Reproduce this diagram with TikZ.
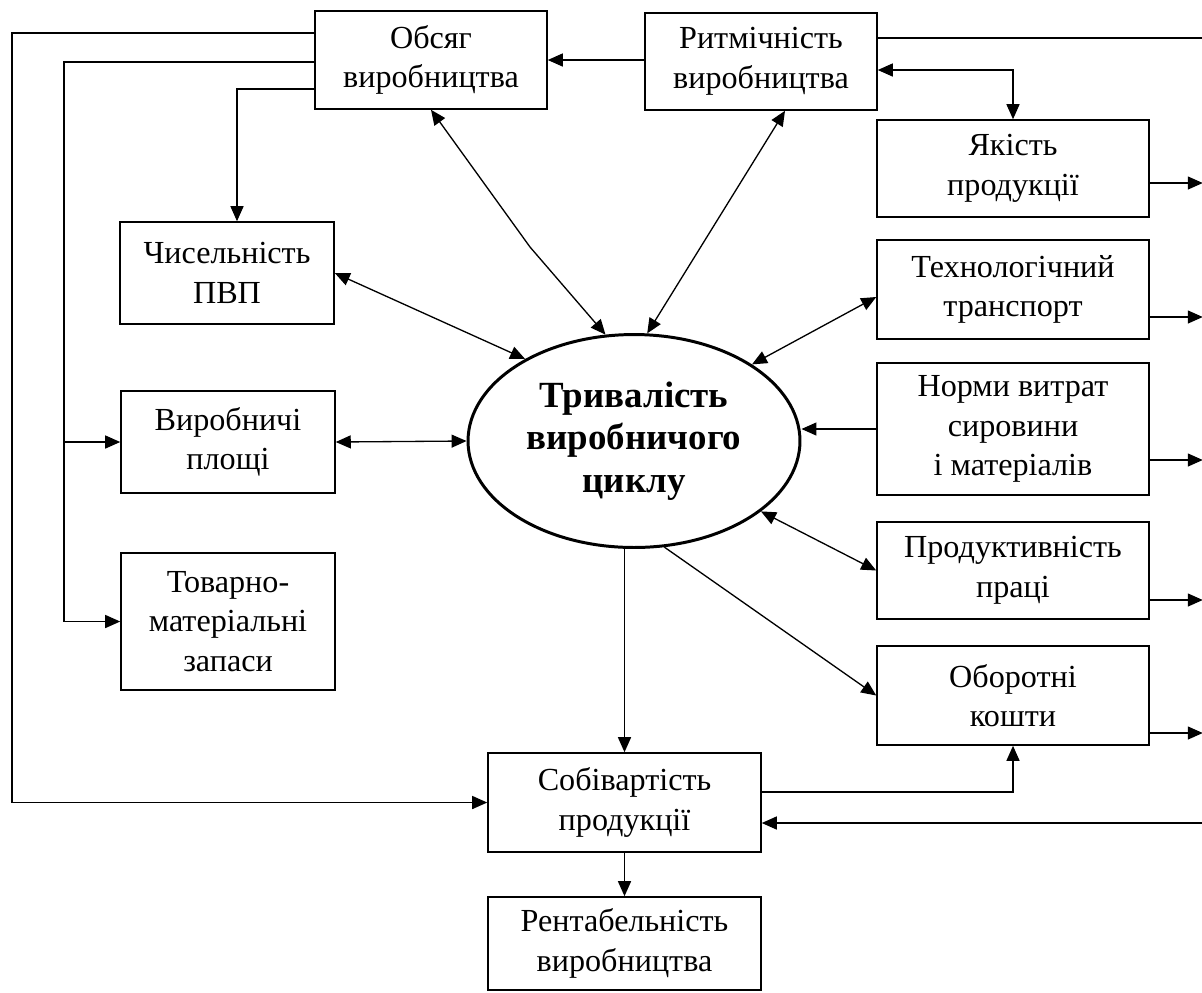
\documentclass[tikz,border=0pt]{standalone}
\usepackage{fontspec}
\setmainfont{Liberation Serif}
\usetikzlibrary{arrows.meta,shapes.geometric}
\begin{document}
\begin{tikzpicture} [x=0.02cm,y=-0.02cm,
	factor/.style={shape=rectangle,draw,line width=0.9pt,inner sep=0pt,align=center,font=\fontsize{18.3}{22.5}\selectfont,minimum width=5.44cm,minimum height=1.96cm},
	central/.style={shape=ellipse,draw,line width=1.7pt,inner sep=0pt,align=center,font=\fontsize{21}{24}\selectfont\bfseries,minimum width=6.64cm,minimum height=4.26cm},
	link/.style={-{Triangle[length=0.3cm,width=0.26cm]},line width=0.75pt},
	dlink/.style={{Triangle[length=0.3cm,width=0.26cm]}-{Triangle[length=0.3cm,width=0.26cm]},line width=0.75pt},
	plain/.style={line width=0.75pt}]
	\useasboundingbox (0,0) rectangle (1202,992);
	\coordinate (leftBus) at (12,0);
	\coordinate (midBus) at (64,0);

	\node (cycleNode) at (634,441)[central] {Тривалість\\виробничого\\циклу};

	\node (obsyagNode) at (431,60)[factor,minimum width=4.64cm] {Обсяг\\виробництва};
	\node (ritmNode) at (761,61.5)[factor,minimum width=4.64cm,minimum height=1.94cm] {Ритмічність\\виробництва};
	\node (yakistNode) at (1013,168.5)[factor,minimum height=1.94cm] {Якість\\продукції};
	\node (tekhNode) at (1013,289.5)[factor,minimum height=1.98cm] {Технологічний\\транспорт};
	\node (normyNode) at (1013,429)[factor,minimum height=2.64cm] {Норми витрат\\сировини\\і матеріалів};
	\node (produktNode) at (1013,570.5)[factor,minimum height=1.94cm] {Продуктивність\\праці};
	\node (oborotNode) at (1013,695.5)[factor,minimum height=1.98cm] {Оборотні\\кошти};

	\node (chyselNode) at (227,273)[factor,minimum width=4.28cm,minimum height=2.04cm] {Чисельність\\ПВП};
	\node (ploshchiNode) at (228,442)[factor,minimum width=4.28cm,minimum height=2.04cm] {Виробничі\\площі};
	\node (zapasyNode) at (228,621.5)[factor,minimum width=4.28cm,minimum height=2.74cm] {Товарно-\\матеріальні\\запаси};

	\node (sobivNode) at (624.5,802.5)[factor,minimum width=5.46cm,minimum height=1.98cm] {Собівартість\\продукції};
	\node (rentabNode) at (624.5,943.5)[factor,minimum width=5.46cm,minimum height=1.86cm] {Рентабельність\\виробництва};

	\draw[link] (ritmNode.west |- obsyagNode.east) -- (obsyagNode.east);
	\draw[plain] ([yshift=0.47cm]ritmNode.east) -- ++(325,0);
	\draw[dlink] ([yshift=-0.17cm]ritmNode.east) -| (yakistNode.north);

	\draw[link] ([yshift=0.54cm]obsyagNode.west) -| (leftBus |- sobivNode.west) -- (sobivNode.west);
	\draw[link] ([yshift=-0.04cm]obsyagNode.west) -| (midBus |- zapasyNode.west) -- (zapasyNode.west);
	\draw[link] (midBus |- ploshchiNode.west) -- (ploshchiNode.west);
	\draw[link] ([yshift=-0.58cm]obsyagNode.west) -| ([xshift=0.2cm]chyselNode.north);

	\draw[dlink] (obsyagNode.south) -- (530,247) -- (cycleNode.105);
	\draw[dlink] ([xshift=0.48cm]ritmNode.south) -- (cycleNode.83);
	\draw[dlink] (chyselNode.east) -- (cycleNode.143);
	\draw[dlink] (ploshchiNode.east) -- (cycleNode.west);
	\draw[dlink] ([yshift=-0.15cm]tekhNode.west) -- (cycleNode.33);
	\draw[link] (normyNode.west) -- (normyNode.west -| cycleNode.east);
	\draw[dlink] (cycleNode.-29) -- (produktNode.west);
	\draw[link] (cycleNode.-74) -- (oborotNode.west);
	\draw[link] (sobivNode.north |- cycleNode.south) -- (sobivNode.north);
	\draw[link] (sobivNode.south) -- (rentabNode.north);

	\draw[link] ([yshift=0.21cm]sobivNode.east) -| (oborotNode.south);
	\draw[link] ([yshift=-0.41cm]sobivNode.east) ++(441,0) -- ([yshift=-0.41cm]sobivNode.east);

	\draw[link] ([yshift=-0.29cm]yakistNode.east) -- ++(53,0);
	\draw[link] ([yshift=-0.55cm]tekhNode.east) -- ++(53,0);
	\draw[link] ([yshift=-0.62cm]normyNode.east) -- ++(53,0);
	\draw[link] ([yshift=-0.59cm]produktNode.east) -- ++(53,0);
	\draw[link] ([yshift=-0.75cm]oborotNode.east) -- ++(53,0);
\end{tikzpicture}
\end{document}
